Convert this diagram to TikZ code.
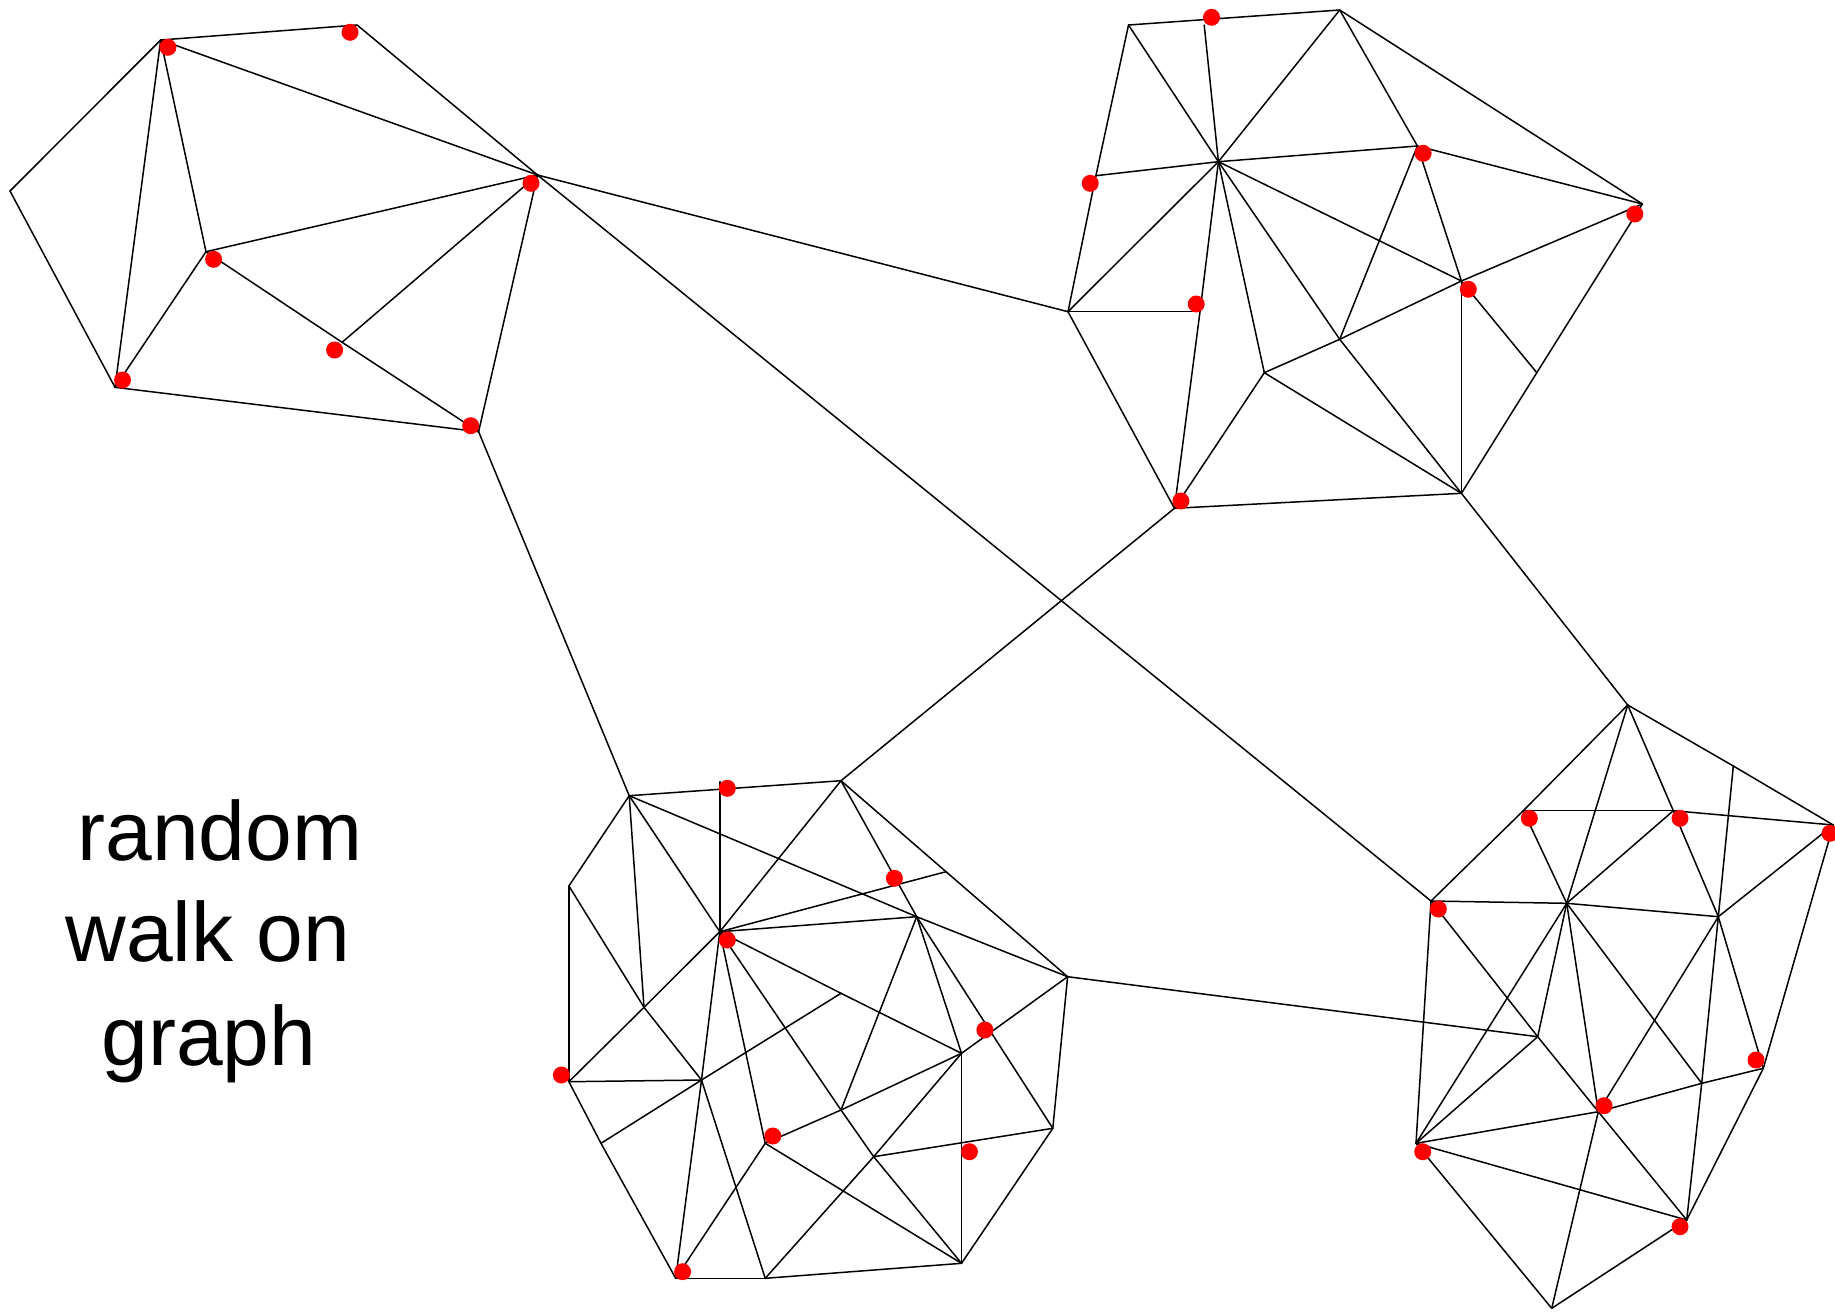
\documentclass[tikz,border=0pt]{standalone}
\usepackage{fontspec}
\setmainfont{Liberation Sans}
\begin{document}
\begin{tikzpicture}[x=1pt,y=-1pt,
  edge/.style={draw=black,line width=1.5pt,line cap=round},
  walker/.style={circle,fill=red,draw=none,inner sep=0pt,minimum size=17pt},
  label/.style={anchor=base,font=\fontsize{84}{100}\selectfont,inner sep=0pt}]
\useasboundingbox (0,0) rectangle (1835,1312);
% cluster 1
\coordinate (A1) at (160.7,40);
\coordinate (A2) at (357.1,25);
\coordinate (A3) at (10,191);
\coordinate (A4) at (115,387.3);
\coordinate (A5) at (206,251.7);
\coordinate (A6) at (537.5,175);
\coordinate (A7) at (342.1,342.3);
\coordinate (A8) at (478.6,431.7);
% cluster 2
\coordinate (B1) at (1128.5,25);
\coordinate (B2) at (1339.7,10);
\coordinate (B3) at (1204.2,25);
\coordinate (B4) at (1218.4,161.7);
\coordinate (B5) at (1095.9,175.7);
\coordinate (B6) at (1068,311.7);
\coordinate (B7) at (1200,311.7);
\coordinate (B8) at (1174.4,508.3);
\coordinate (B9) at (1461.4,493.3);
\coordinate (B10) at (1417.4,146);
\coordinate (B11) at (1642.4,204);
\coordinate (B12) at (1461.4,281);
\coordinate (B13) at (1339.7,339.3);
\coordinate (B14) at (1264.3,372.7);
\coordinate (B15) at (1536.8,372.7);
% cluster 3
\coordinate (C1) at (629.2,795.7);
\coordinate (C2) at (841,780.7);
\coordinate (C3) at (719.8,781.7);
\coordinate (C4) at (719.8,931.7);
\coordinate (C5) at (568.9,886);
\coordinate (C6) at (644,1007.3);
\coordinate (C7) at (916.7,916.7);
\coordinate (C9) at (1067.6,976.7);
\coordinate (C10) at (946,871.7);
\coordinate (C11) at (568.9,1081.7);
\coordinate (C12) at (701.5,1080);
\coordinate (C13) at (765.2,1143.3);
\coordinate (C14) at (841,1110);
\coordinate (C15) at (961.5,1263.3);
\coordinate (C16) at (961.5,1053.3);
\coordinate (C17) at (841,993.3);
\coordinate (C18) at (601,1143.3);
\coordinate (C19) at (1052.8,1128.3);
\coordinate (C20) at (675.7,1278.3);
\coordinate (C21) at (765.2,1278.3);
\coordinate (C22) at (873.7,1156.7);
% cluster 4
\coordinate (D1) at (1627.7,705);
\coordinate (D2) at (1431,901);
\coordinate (D3) at (1523.3,810.7);
\coordinate (D4) at (1673.3,810.7);
\coordinate (D5) at (1833.3,825);
\coordinate (D6) at (1566.7,903.3);
\coordinate (D7) at (1718.3,916.7);
\coordinate (D8) at (1733.3,766);
\coordinate (D9) at (1416,1143.3);
\coordinate (D10) at (1537.7,1036.7);
\coordinate (D11) at (1598.3,1111.7);
\coordinate (D13) at (1701.7,1083.3);
\coordinate (D14) at (1686.7,1220);
\coordinate (D15) at (1763.3,1068.3);
\coordinate (D16) at (1551.7,1308.3);
% edges
\foreach \a/\b in {A1/A2,A2/A6,A1/A6,A1/A3,A3/A4,A1/A4,A1/A5,A5/A4,A5/A6,A5/A7,A7/A8,A6/A7,A6/A8,A4/A8,
  B1/B2,B3/B4,B1/B5,B5/B6,B1/B4,B2/B4,B2/B10,B2/B11,B5/B4,B4/B10,B10/B11,B4/B6,B4/B7,B7/B8,B6/B7,B6/B8,
  B4/B14,B4/B13,B4/B12,B10/B13,B10/B12,B12/B11,B12/B13,B13/B14,B12/B9,B12/B15,B11/B15,B15/B9,B14/B8,B14/B9,B13/B9,B8/B9,
  C1/C2,C3/C4,C1/C5,C5/C11,C1/C4,C2/C4,C2/C7,C2/C10,C10/C9,C4/C10,C4/C7,C1/C7,C7/C9,C4/C6,C6/C11,C5/C6,C1/C6,C6/C12,
  C4/C12,C4/C13,C4/C14,C4/C17,C17/C16,C17/C12,C12/C18,C11/C18,C18/C20,C11/C12,C12/C20,C12/C21,C13/C20,C13/C15,C13/C14,
  C14/C16,C14/C22,C22/C15,C7/C14,C7/C16,C7/C19,C9/C16,C9/C19,C16/C15,C16/C22,C22/C21,C22/C19,C19/C15,C20/C21,C21/C15,
  D1/D3,D3/D2,D1/D8,D8/D5,D1/D4,D1/D6,D3/D4,D4/D5,D3/D6,D4/D6,D4/D7,D8/D7,D5/D7,D2/D6,D6/D7,D5/D15,D2/D9,D2/D10,D10/D11,
  D6/D9,D6/D10,D6/D11,D6/D13,D7/D11,D7/D13,D13/D14,D7/D15,D15/D14,D15/D13,D13/D11,D11/D9,D10/D9,D11/D14,D11/D16,D9/D14,D9/D16,D16/D14,
  A6/B6,A6/D2,A8/C1,B8/C2,B9/D1,C9/D10}
  \draw[edge] (\a) -- (\b);
% walkers
\foreach \n/\p in {p1/{(167.9,47.3)},p2/{(350,32.3)},p3/{(122.5,380)},p4/{(213.6,259.3)},p5/{(531,183.3)},p6/{(334.6,350)},p7/{(470.7,425.7)},
  q1/{(1211.5,17.3)},q2/{(1090.2,183.3)},q3/{(1196.2,304)},q4/{(1180.9,501)},q5/{(1423.1,153.3)},q6/{(1634.8,214)},q7/{(1468.3,289.3)},
  r1/{(727.3,788.3)},r2/{(727.3,940)},r3/{(894.4,878.3)},r4/{(984.9,1030)},r5/{(561.4,1075)},r6/{(772.8,1136)},r7/{(969.4,1151.7)},r8/{(682.6,1271.7)},
  s1/{(1529.3,818.3)},s2/{(1680,818.3)},s3/{(1830,833.3)},s4/{(1438.3,909)},s5/{(1422.7,1151.7)},s6/{(1604,1105.7)},s7/{(1756,1060)},s8/{(1680,1226.7)}}
  \node[walker] (\n) at \p {};
% label
\node[label] (t1) at (220,860) {random};
\node[label] (t2) at (208,961.7) {walk on};
\node[label] (t3) at (209,1065) {graph};
\end{tikzpicture}
\end{document}
